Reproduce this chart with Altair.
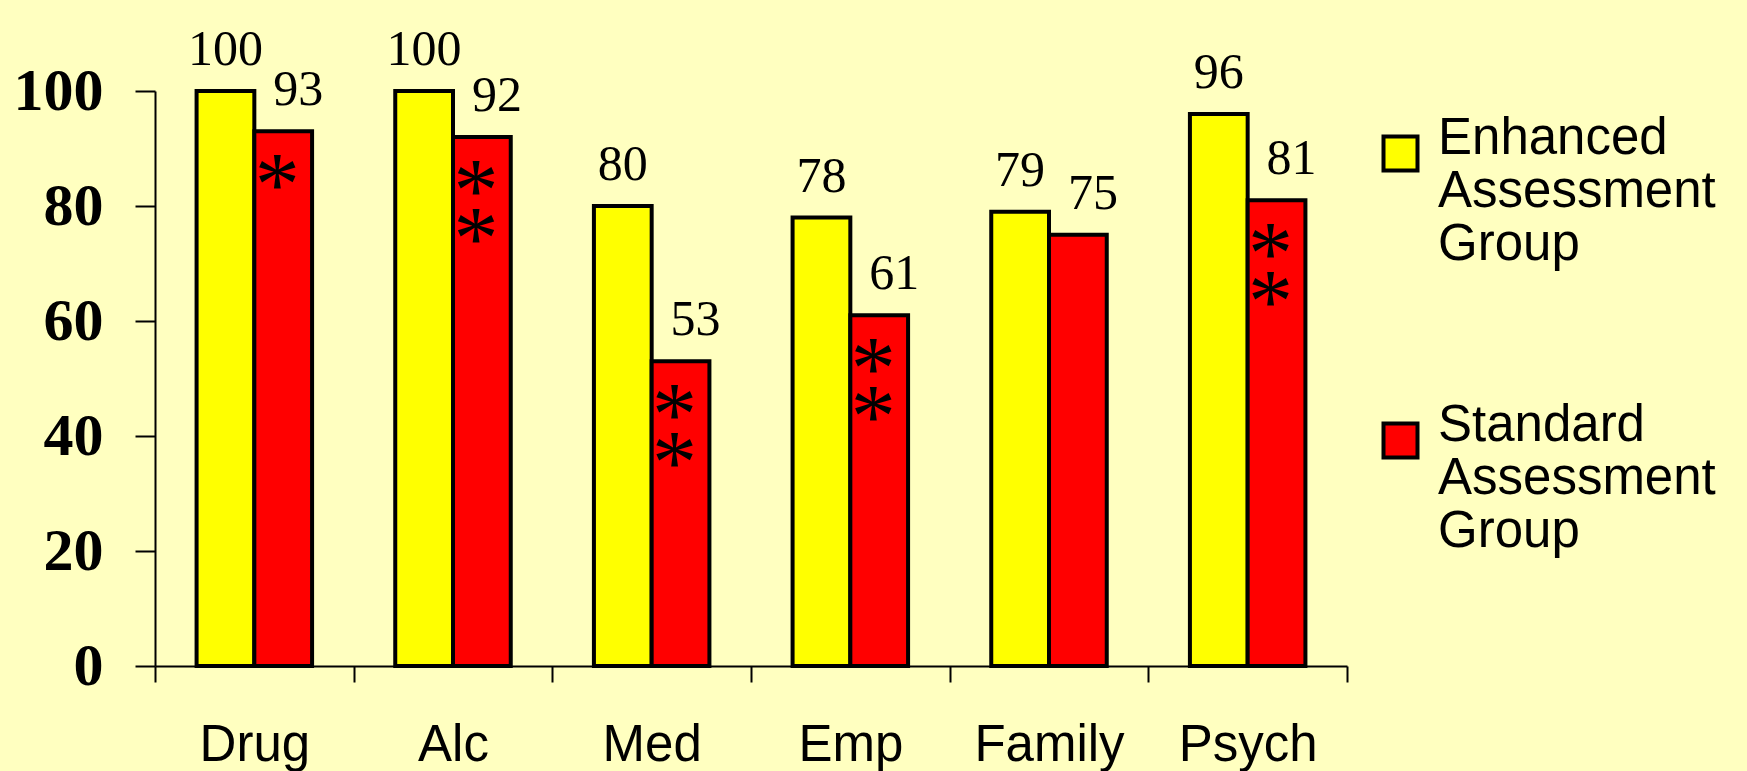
import altair as alt
import pandas as pd

# Percent of clients with each problem area assessed, by study group
categories = ["Drug", "Alc", "Med", "Emp", "Family", "Psych"]
enhanced = [100, 100, 80, 78, 79, 96]
standard = [93, 92, 53, 61, 75, 81]
# Significance markers shown inside the standard-group bars
markers = ["*", "*\n*", "*\n*", "*\n*", "", "*\n*"]

series = ["Enhanced Assessment Group", "Standard Assessment Group"]
colors = ["#FFFF00", "#FF0000"]

rows = []
for cat, e, s, m in zip(categories, enhanced, standard, markers):
    rows.append({"category": cat, "series": series[0], "value": e, "marker": ""})
    rows.append({"category": cat, "series": series[1], "value": s, "marker": m})
df = pd.DataFrame(rows)

x_enc = alt.X(
    "category:N",
    sort=categories,
    scale=alt.Scale(paddingInner=0, paddingOuter=0),
    axis=alt.Axis(
        title=None,
        labelAngle=0,
        labelFont="Liberation Sans",
        labelFontSize=51,
        labelColor="black",
        labelPadding=38,
        tickBand="extent",
        tickSize=16,
        tickColor="black",
        tickWidth=2,
        domainColor="black",
        domainWidth=2,
        grid=False,
    ),
)
xoff_enc = alt.XOffset(
    "series:N", scale=alt.Scale(domain=series, paddingInner=0, paddingOuter=0.72)
)
y_enc = alt.Y(
    "value:Q",
    scale=alt.Scale(domain=[0, 100], nice=False),
    axis=alt.Axis(
        title=None,
        values=[0, 20, 40, 60, 80, 100],
        labelFont="Liberation Serif",
        labelFontWeight="bold",
        labelFontSize=60,
        labelColor="black",
        labelPadding=32,
        tickSize=20,
        tickColor="black",
        tickWidth=2,
        domainColor="black",
        domainWidth=2,
        grid=False,
    ),
)

# Legend to the right of the plot, each group name on three lines
legend = alt.Legend(
    title=None,
    orient="none",
    legendX=1220,
    legendY=37,
    direction="vertical",
    symbolType="square",
    symbolSize=1156,
    symbolStrokeWidth=4,
    symbolStrokeColor="black",
    symbolOpacity=1,
    labelFont="Liberation Sans",
    labelFontSize=51,
    labelColor="black",
    labelLimit=0,
    labelOffset=12,
    labelBaseline="alphabetic",
    labelExpr="split(datum.label, ' ')",
    rowPadding=129,
)

base = alt.Chart(df).encode(x=x_enc, xOffset=xoff_enc, y=y_enc)

bars = base.mark_bar(stroke="black", strokeWidth=4, strokeJoin="miter").encode(
    color=alt.Color(
        "series:N",
        scale=alt.Scale(domain=series, range=colors),
        legend=legend,
    )
)

label_style = dict(
    font="Liberation Serif", fontSize=50, color="black", baseline="alphabetic", dy=-26
)
labels_enh = base.transform_filter(alt.datum.series == series[0]).mark_text(
    dx=0, **label_style
).encode(text="value:Q")
labels_std = base.transform_filter(alt.datum.series == series[1]).mark_text(
    dx=15, **label_style
).encode(text="value:Q")

stars = base.transform_filter(alt.datum.marker != "").mark_text(
    font="Liberation Serif",
    fontSize=90,
    color="black",
    baseline="alphabetic",
    lineBreak="\n",
    lineHeight=48,
    dx=-6,
    dy=84,
).encode(text="marker:N")

chart = (
    alt.layer(bars, labels_enh, labels_std, stars)
    .properties(
        width=1192,
        height=575,
        autosize=alt.AutoSizeParams(type="none"),
        padding={"left": 155, "top": 91, "right": 400, "bottom": 105},
        background="#FFFFC0",
    )
    .configure_view(stroke=None)
)

chart.save("out.html", embed_options={"renderer": "svg", "actions": False})
